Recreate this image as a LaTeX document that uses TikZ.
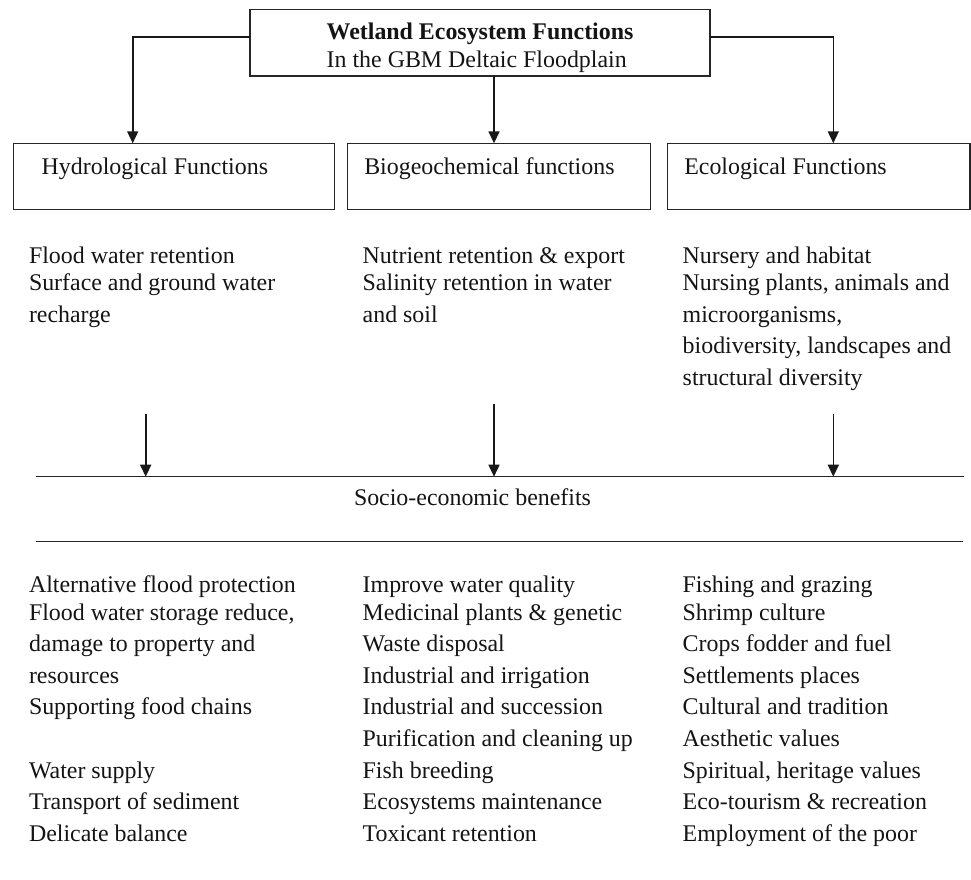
\documentclass[tikz,border=0pt]{standalone}
\usepackage{fontspec}
\setmainfont{Liberation Serif}
\usetikzlibrary{arrows.meta}
\begin{document}
\begin{tikzpicture}[x=1pt,y=-1pt,
  every node/.style={inner sep=0pt, outer sep=0pt, font=\fontsize{23.9}{28}\selectfont, text=black!92},
  txt/.style={anchor=base west},
  box/.style={draw=black!85, line width=1.3pt, anchor=north west},
  arr/.style={draw=black!90, line width=1.6pt, -{Triangle[length=12pt,width=11pt]}},
  rule/.style={draw=black!85, line width=1.5pt}]
\useasboundingbox (0,0) rectangle (971,880);

% boxes
\node[box, minimum width=460pt, minimum height=66.7pt] (top) at (250,9.3) {};
\node[box, minimum width=321pt, minimum height=66pt] (hyd) at (13.3,143.3) {};
\node[box, minimum width=303pt, minimum height=66pt] (bio) at (347.7,143.3) {};
\node[box, minimum width=302.3pt, minimum height=66pt] (eco) at (667.7,143.3) {};

% top box text
\node[txt, font=\fontsize{23.9}{28}\selectfont\bfseries] (t1) at (326.7,39.3) {Wetland Ecosystem Functions};
\node[txt] (t2) at (326.7,67.7) {In the GBM Deltaic Floodplain};

% headings
\node[txt] (hh) at (41.7,174.3) {Hydrological Functions};
\node[txt] (bh) at (364.3,174.3) {Biogeochemical functions};
\node[txt] (eh) at (684.3,174.3) {Ecological Functions};

% connectors from top box
\coordinate (tly) at (0,37.3);
\coordinate (hx) at (132.7,0);
\coordinate (cx) at (494,0);
\coordinate (ex) at (833.3,0);
\draw[arr] (top.west |- tly) -| (hyd.north -| hx);
\draw[arr] (top.east |- tly) -| (eco.north -| ex);
\draw[arr] (top.south -| cx) -- (bio.north -| cx);

% function descriptions
\node[txt] (h1) at (29,263.3) {Flood water retention};
\node[txt] (h2) at (29,290.7) {Surface and ground water};
\node[txt] (h3) at (29,322) {recharge};

\node[txt] (b1) at (362.7,263.3) {Nutrient retention \& export};
\node[txt] (b2) at (362.7,290.7) {Salinity retention in water};
\node[txt] (b3) at (362.7,322) {and soil};

\node[txt] (e1) at (682.7,263.3) {Nursery and habitat};
\node[txt] (e2) at (682.7,290.7) {Nursing plants, animals and};
\node[txt] (e3) at (682.7,322) {microorganisms,};
\node[txt] (e4) at (682.7,353.5) {biodiversity, landscapes and};
\node[txt] (e5) at (682.7,385) {structural diversity};

% rules and lower arrows
\coordinate (ul) at (36,476.7);
\coordinate (ur) at (964,476.7);
\coordinate (ll) at (36,541.7);
\coordinate (lr) at (963,541.7);
\draw[rule] (ul) -- (ur);
\draw[rule] (ll) -- (lr);
\coordinate (a1) at (145.7,414);
\coordinate (a2) at (494,404);
\coordinate (a3) at (833.3,414);
\draw[arr] (a1) -- (a1 |- ul);
\draw[arr] (a2) -- (a2 |- ul);
\draw[arr] (a3) -- (a3 |- ul);

\node[txt] (seb) at (354,505) {Socio-economic benefits};

% benefits column 1
\node[txt] (c11) at (29,592.3) {Alternative flood protection};
\node[txt] (c12) at (29,620) {Flood water storage reduce,};
\node[txt] (c13) at (29,651.6) {damage to property and};
\node[txt] (c14) at (29,683.2) {resources};
\node[txt] (c15) at (29,714.8) {Supporting food chains};
\node[txt] (c17) at (29,778) {Water supply};
\node[txt] (c18) at (29,809.6) {Transport of sediment};
\node[txt] (c19) at (29,841.2) {Delicate balance};

% benefits column 2
\node[txt] (c21) at (362.7,592.3) {Improve water quality};
\node[txt] (c22) at (362.7,620) {Medicinal plants \& genetic};
\node[txt] (c23) at (362.7,651.6) {Waste disposal};
\node[txt] (c24) at (362.7,683.2) {Industrial and irrigation};
\node[txt] (c25) at (362.7,714.8) {Industrial and succession};
\node[txt] (c26) at (362.7,746.4) {Purification and cleaning up};
\node[txt] (c27) at (362.7,778) {Fish breeding};
\node[txt] (c28) at (362.7,809.6) {Ecosystems maintenance};
\node[txt] (c29) at (362.7,841.2) {Toxicant retention};

% benefits column 3
\node[txt] (c31) at (682.7,592.3) {Fishing and grazing};
\node[txt] (c32) at (682.7,620) {Shrimp culture};
\node[txt] (c33) at (682.7,651.6) {Crops fodder and fuel};
\node[txt] (c34) at (682.7,683.2) {Settlements places};
\node[txt] (c35) at (682.7,714.8) {Cultural and tradition};
\node[txt] (c36) at (682.7,746.4) {Aesthetic values};
\node[txt] (c37) at (682.7,778) {Spiritual, heritage values};
\node[txt] (c38) at (682.7,809.6) {Eco-tourism \& recreation};
\node[txt] (c39) at (682.7,841.2) {Employment of the poor};
\end{tikzpicture}
\end{document}
